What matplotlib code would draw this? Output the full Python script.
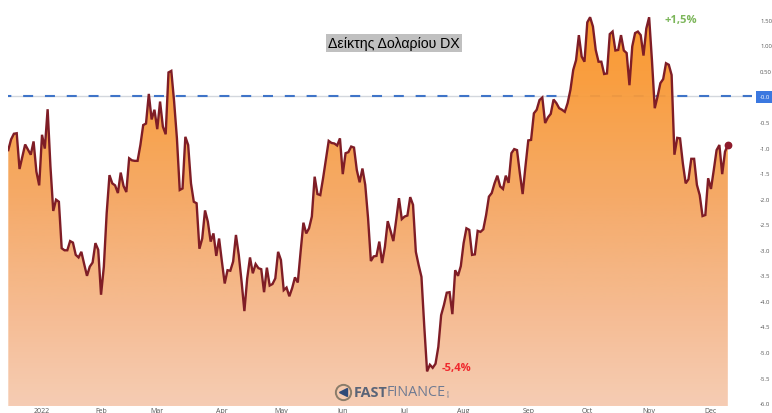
import matplotlib
matplotlib.use('Agg')
import matplotlib.pyplot as plt
import numpy as np
from matplotlib.colors import LinearSegmentedColormap
from matplotlib.patches import Polygon

# dollar index % change, one value per trading session
dx_values = [
    -1.05, -0.84, -0.73, -0.72, -1.42, -1.18, -0.94, -1.04, -1.14, -0.88,
    -1.47, -1.74, -0.75, -1.02, -0.25, -1.37, -2.24, -2.02, -2.06, -2.97,
    -3.01, -3.01, -2.83, -2.86, -3.10, -3.15, -3.04, -3.28, -3.51, -3.33,
    -3.25, -2.87, -3.00, -3.88, -3.33, -2.29, -1.54, -1.70, -1.74, -1.89,
    -1.49, -1.75, -1.87, -1.21, -1.25, -1.26, -1.26, -0.95, -0.56, -0.53,
    0.05, -0.45, -0.26, -0.64, -0.10, -0.59, -0.74, 0.47, 0.50, -0.10,
    -0.82, -1.83, -1.80, -0.79, -0.95, -1.70, -2.06, -2.09, -2.98, -2.78,
    -2.23, -2.45, -2.84, -2.68, -3.12, -2.78, -3.23, -3.66, -3.40, -3.41,
    -3.23, -2.71, -3.10, -3.62, -4.20, -3.56, -3.15, -3.46, -3.28, -3.36,
    -3.38, -3.83, -3.35, -3.70, -3.67, -3.56, -3.04, -3.20, -3.79, -3.74,
    -3.91, -3.75, -3.54, -3.64, -3.04, -2.47, -2.68, -2.58, -2.35, -1.57,
    -1.91, -1.93, -1.60, -1.24, -0.87, -0.91, -0.92, -0.96, -0.82, -1.52,
    -1.11, -1.09, -0.98, -1.00, -1.44, -1.68, -1.41, -1.73, -2.38, -3.22,
    -3.13, -3.12, -2.84, -3.26, -2.94, -2.44, -2.63, -2.83, -2.42, -1.99,
    -2.40, -2.35, -2.33, -1.97, -2.12, -3.04, -3.30, -3.53, -4.50, -5.38,
    -5.25, -5.31, -5.23, -4.90, -4.28, -4.08, -3.84, -3.83, -4.26, -3.40,
    -3.51, -3.32, -2.87, -2.58, -2.61, -3.10, -3.09, -2.63, -2.65, -2.60,
    -2.32, -1.96, -1.89, -1.70, -1.55, -1.76, -1.81, -1.55, -1.69, -1.11,
    -1.03, -1.05, -1.50, -1.91, -1.37, -0.86, -0.85, -0.33, -0.26, -0.07,
    -0.02, -0.52, -0.41, -0.34, -0.06, -0.13, -0.23, -0.26, -0.30, -0.13,
    0.13, 0.52, 0.71, 1.20, 0.78, 0.68, 1.45, 1.55, 1.37, 0.91,
    0.68, 0.68, 0.44, 0.45, 1.22, 1.27, 0.90, 0.91, 1.20, 0.90,
    0.85, 0.22, 0.98, 1.24, 1.27, 1.20, 0.80, 1.33, 1.55, 0.71,
    -0.23, 0.00, 0.26, 0.34, 0.65, 0.62, 0.42, -1.14, -0.81, -0.82,
    -1.31, -1.70, -1.62, -1.22, -1.22, -1.73, -1.93, -2.34, -2.32, -1.60,
    -1.81, -1.44, -1.05, -0.95, -1.52, -1.08, -0.95,
]
month_sessions = [12, 33, 53, 76, 97, 119, 141, 162, 185, 206, 228, 250]
month_labels = ['2022', 'Feb', 'Mar', 'Apr', 'May', 'Jun', 'Jul', 'Aug', 'Sep', 'Oct', 'Nov', 'Dec']
y_ticks = [1.5, 1.0, 0.5, 0.0, -0.5, -1.0, -1.5, -2.0, -2.5, -3.0, -3.5, -4.0, -4.5, -5.0, -5.5, -6.0]
y_labels = ['1.50', '1.00', '0.50', '-0.0', '-0.5', '-1.0', '-1.5', '-2.0', '-2.5', '-3.0', '-3.5',
            '-4.0', '-4.5', '-5.0', '-5.5', '-6.0']

W, H = 772, 414
plt.rcParams['lines.scale_dashes'] = False
plt.rcParams['font.family'] = ['Open Sans', 'DejaVu Sans']

fig = plt.figure(figsize=(W / 100, H / 100), dpi=100, facecolor='white')
ax = fig.add_axes([8 / W, 1 - 407 / H, 744 / W, 407 / H])


def figx(px):
    return px / W


def figy(py):
    return 1 - py / H


sessions = np.arange(len(dx_values))
ymin, ymax = -6.057, 1.907
xmin, xmax = -0.1, 264.6

# zero line first, the fill sits on top of it so it only shows faintly
ax.axhline(0, color='#d3d7dd', lw=1.0, zorder=1)
ax.axhline(0, color='#3f74c8', lw=1.5, linestyle=(4.8, (7.2, 8.5)), zorder=1.1)

# vertical gradient under the curve
grad_cmap = LinearSegmentedColormap.from_list('fill', [
    (0.0, '#fb9420'), (0.21, '#f99a38'), (0.49, '#f5a660'), (0.74, '#f5b688'), (1.0, '#f6cab0')])
grad = np.linspace(0, 1, 256).reshape(-1, 1)
img = ax.imshow(grad, extent=[xmin, xmax, ymin, ymax], origin='upper', aspect='auto',
                cmap=grad_cmap, alpha=0.95, zorder=2)
verts = list(zip(sessions, dx_values)) + [(sessions[-1], ymin), (sessions[0], ymin)]
clip = Polygon(verts, closed=True, transform=ax.transData, fc='none', ec='none')
ax.add_patch(clip)
img.set_clip_path(clip)

ax.plot(sessions, dx_values, color='#7f1d26', lw=1.7, zorder=3, solid_joinstyle='miter')
ax.plot(sessions[-1], dx_values[-1], 'o', color='#8e1b2b', ms=4.6, zorder=4)

ax.set_xlim(xmin, xmax)
ax.set_ylim(ymin, ymax)
for s in ax.spines.values():
    s.set_visible(False)

ax.set_xticks(month_sessions)
ax.set_xticklabels(month_labels)
ax.yaxis.tick_right()
ax.set_yticks(y_ticks)
ax.set_yticklabels(y_labels)
ax.tick_params(axis='x', length=0, pad=0.5, labelsize=5, labelcolor='#555555')
ax.tick_params(axis='y', length=0, pad=5.8, labelsize=4.3, labelcolor='#555555')
for lab, v in zip(ax.get_yticklabels(), y_ticks):
    if v == 0:
        lab.set_color('white')
        lab.set_bbox(dict(fc='#3b78e0', ec='none', pad=2.6))

fig.text(figx(394), figy(44), 'Δείκτης Δολαρίου DX', ha='center', va='center', fontsize=10.2,
         color='black', family=['Liberation Sans', 'DejaVu Sans'],
         bbox=dict(fc='#c0c0c0', ec='none', pad=1.5))
fig.text(figx(681), figy(20), '+1,5%', ha='center', va='center', fontsize=8, fontweight='bold', color='#7cb65a')
fig.text(figx(456), figy(369), '-5,4%', ha='center', va='center', fontsize=8, fontweight='bold', color='#f0282d')

# logo
fig.add_artist(plt.Line2D([figx(343)], [figy(393)], marker='o', ms=11, mfc='none', mec='#8a7c6a', mew=1.4,
                          transform=fig.transFigure))
fig.add_artist(plt.Line2D([figx(343)], [figy(393)], marker='<', ms=6, color='#2f4a78',
                          transform=fig.transFigure))
fig.text(figx(354), figy(393), 'FAST', ha='left', va='center', fontsize=10.4, fontweight='bold', color='#5a6478')
fig.text(figx(387), figy(393), 'FINANCE', ha='left', va='center', fontsize=10.4, color='#6e7a92')
fig.text(figx(449), figy(393), 'com', ha='center', va='center', fontsize=3, rotation=90, color='#6e7a92')

fig.savefig('out.png', dpi=100)
